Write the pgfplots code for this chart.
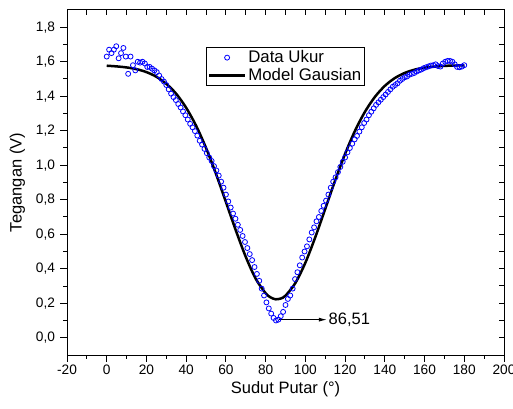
\documentclass[border=0pt]{standalone}
\usepackage{fontspec}
\setmainfont{Liberation Sans}
\usepackage{pgfplots}
\pgfplotsset{compat=1.18}
\usetikzlibrary{arrows.meta}

\definecolor{datblue}{RGB}{0,0,255}

\pgfplotsset{
    markleg/.style={legend image code/.code={\draw[mark repeat=2,mark phase=2,##1] plot coordinates {(0bp,0bp) (18bp,0bp) (36bp,0bp)};}},
    lineleg/.style={legend image code/.code={\draw[##1] (0bp,0bp) -- (36bp,0bp);}},
}

\begin{document}
\begin{tikzpicture}
\begin{axis}[
    name=ax,
    scale only axis,
    width=437bp, height=345bp,
    xmin=-20, xmax=200, ymin=-0.1, ymax=1.9,
    xtick={-20,0,20,40,60,80,100,120,140,160,180,200},
    ytick={0,0.2,0.4,0.6,0.8,1.0,1.2,1.4,1.6,1.8},
    minor x tick num=1, minor y tick num=1,
    xtick pos=bottom, ytick pos=left,
    tick align=outside,
    major tick length=6.5bp, minor tick length=3.5bp,
    axis line style={line width=1bp},
    every tick/.style={black, line width=1bp},
    ticklabel style={font=\fontsize{13.7bp}{16bp}\selectfont},
    /pgf/number format/assume math mode=true,
    yticklabel style={xshift=-2bp, /pgf/number format/.cd, fixed, fixed zerofill, precision=1, use comma},
    xlabel={Sudut Putar (°)},
    ylabel={Tegangan (V)},
    label style={font=\fontsize{16.5bp}{19bp}\selectfont},
    ylabel style={yshift=4bp},
    legend style={at={(0.318,0.893)}, anchor=north west, draw=black, line width=0.8bp,
        font=\fontsize{16.8bp}{19bp}\selectfont, inner sep=1.5bp, row sep=0bp},
    legend cell align=left,
]
\addplot[only marks, mark=o, mark size=2.5bp, mark options={datblue, line width=0.8bp}, markleg]
coordinates {
(0,1.63) (1.2,1.67) (2.4,1.65) (3.6,1.67) (4.8,1.69) (6,1.62) (7.2,1.65) (8.4,1.68)
(9.6,1.63) (10.8,1.53) (12,1.63) (13.2,1.58) (14.4,1.55) (15.6,1.60) (16.8,1.595)
(18,1.60) (19.2,1.59) (20.4,1.57) (21.6,1.57) (22.8,1.56) (24,1.55) (25.2,1.54)
(26.4,1.52) (27.6,1.50) (28.8,1.485) (30,1.465) (31.2,1.44) (32.4,1.415) (33.6,1.395)
(34.8,1.378) (36,1.355) (37.2,1.335) (38.4,1.312) (39.6,1.29) (40.8,1.265) (42,1.24)
(43.2,1.22) (44.4,1.198) (45.6,1.172) (46.8,1.142) (48,1.12) (49.2,1.095) (50.4,1.07)
(51.6,1.045) (52.8,1.025) (54,0.995) (55.2,0.97) (56.4,0.94) (57.6,0.905) (58.8,0.87)
(60,0.83) (61.2,0.79) (62.4,0.755) (63.6,0.72) (64.8,0.69) (66,0.655) (67.2,0.625)
(68.4,0.59) (69.6,0.555) (70.8,0.52) (72,0.485) (73.2,0.45) (74.4,0.41) (75.6,0.37)
(76.8,0.33) (78,0.285) (79.2,0.245) (80.4,0.205) (81.6,0.17) (82.8,0.14) (84,0.115)
(85.2,0.10) (86.4,0.105) (87.6,0.125) (88.8,0.15) (90,0.19) (91.2,0.225) (92.4,0.245)
(93.6,0.285) (94.8,0.34) (96,0.38) (97.2,0.42) (98.4,0.465) (99.6,0.50) (100.8,0.53)
(102,0.57) (103.2,0.61) (104.4,0.64) (105.6,0.675) (106.8,0.70) (108,0.735) (109.2,0.765)
(110.4,0.795) (111.6,0.83) (112.8,0.87) (114,0.905) (115.2,0.93) (116.4,0.96) (117.6,0.99)
(118.8,1.02) (120,1.045) (121.2,1.075) (122.4,1.10) (123.6,1.125) (124.8,1.15) (126,1.17)
(127.2,1.195) (128.4,1.22) (129.6,1.245) (130.8,1.265) (132,1.29) (133.2,1.31) (134.4,1.33)
(135.6,1.35) (136.8,1.365) (138,1.38) (139.2,1.395) (140.4,1.41) (141.6,1.425) (142.8,1.44)
(144,1.455) (145.2,1.465) (146.4,1.475) (147.6,1.49) (148.8,1.50) (150,1.51) (151.2,1.515)
(152.4,1.525) (153.6,1.53) (154.8,1.535) (156,1.543) (157.2,1.55) (158.4,1.555)
(159.6,1.563) (160.8,1.568) (162,1.573) (163.2,1.578) (164.4,1.58) (165.6,1.585)
(166.8,1.575) (168,1.572) (169.2,1.59) (170.4,1.60) (171.6,1.605) (172.8,1.605) (174,1.60)
(175.2,1.585) (176.4,1.57) (177.6,1.568) (178.8,1.572) (180,1.58)
};
\addlegendentry{Data Ukur}
\addplot[black, line width=2.5bp, smooth, lineleg]
coordinates {
(0,1.577) (5,1.573) (10,1.567) (15,1.557) (20,1.540) (25,1.513) (30,1.472) (35,1.414)
(40,1.333) (45,1.229) (50,1.100) (55,0.950) (60,0.787) (65,0.622) (70,0.469) (75,0.342)
(80,0.258) (82.5,0.234) (85,0.223) (87.5,0.227) (90,0.244) (95,0.318) (100,0.435)
(105,0.583) (110,0.747) (115,0.912) (120,1.066) (125,1.200) (130,1.310) (135,1.396)
(140,1.460) (145,1.505) (150,1.535) (155,1.554) (160,1.566) (165,1.572) (170,1.576)
(175,1.578) (180,1.579)
};
\addlegendentry{Model Gausian}
\draw[-{Latex[length=8bp,width=4bp]}, line width=0.8bp] (axis cs:86.8,0.105) -- (axis cs:110.8,0.105)
    node[anchor=west, inner sep=1.5bp, font=\fontsize{16.5bp}{19bp}\selectfont] {86,51};
\end{axis}
\begin{axis}[
    scale only axis,
    width=437bp, height=345bp,
    xmin=-20, xmax=200, ymin=-0.1, ymax=1.9,
    xtick={-20,0,20,40,60,80,100,120,140,160,180,200},
    ytick={0,0.2,0.4,0.6,0.8,1.0,1.2,1.4,1.6,1.8},
    minor x tick num=1, minor y tick num=1,
    xtick pos=top, ytick pos=right,
    tick align=inside,
    major tick length=5bp, minor tick length=5bp,
    axis line style={draw=none},
    every tick/.style={black, line width=1bp},
    xticklabels={}, yticklabels={},
]
\end{axis}
\path (ax.south west) ++(-67bp,-54bp) coordinate (bbA);
\path (ax.north east) ++(9bp,10bp) coordinate (bbB);
\pgfresetboundingbox
\path[use as bounding box] (bbA) rectangle (bbB);
\end{tikzpicture}
\end{document}
